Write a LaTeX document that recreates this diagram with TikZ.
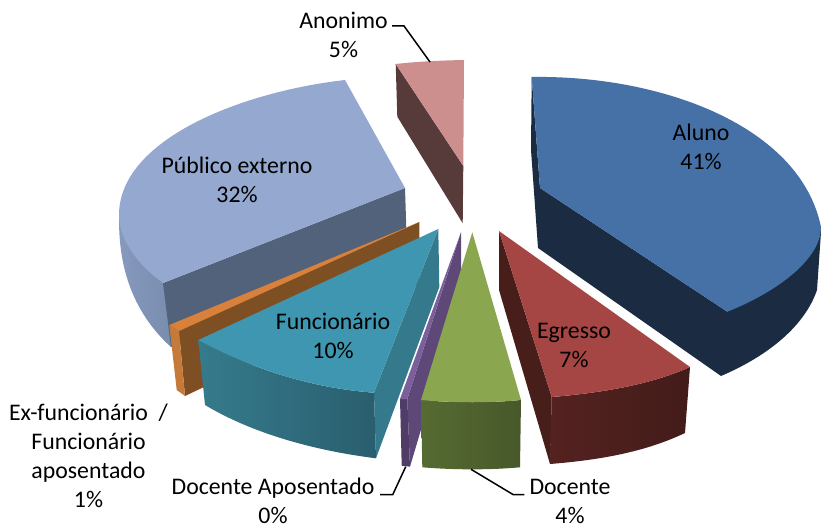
\documentclass[tikz,border=0pt]{standalone}
\usepackage{fontspec}
\setmainfont{Carlito}
\definecolor{aluT}{RGB}{70,113,166}
\definecolor{aluS}{RGB}{27,43,66}
\definecolor{pubT}{RGB}{148,168,208}
\definecolor{pubS}{RGB}{82,98,122}
\definecolor{pubA}{RGB}{134,153,190}
\definecolor{pubB}{RGB}{114,134,165}
\definecolor{egrT}{RGB}{165,70,68}
\definecolor{egrS}{RGB}{72,30,27}
\definecolor{egrA}{RGB}{84,34,32}
\definecolor{egrB}{RGB}{66,28,25}
\definecolor{docT}{RGB}{138,166,79}
\definecolor{docA}{RGB}{85,107,50}
\definecolor{docB}{RGB}{72,88,42}
\definecolor{apoT}{RGB}{122,95,154}
\definecolor{apoS}{RGB}{94,72,120}
\definecolor{apoF}{RGB}{79,61,104}
\definecolor{funT}{RGB}{63,150,176}
\definecolor{funS}{RGB}{53,121,140}
\definecolor{funA}{RGB}{53,123,140}
\definecolor{funB}{RGB}{42,94,110}
\definecolor{exT}{RGB}{217,128,58}
\definecolor{exS}{RGB}{127,79,36}
\definecolor{exF}{RGB}{198,122,58}
\definecolor{anoT}{RGB}{205,143,141}
\definecolor{anoS}{RGB}{87,58,58}
\tikzset{
  lbl/.style={font=\fontsize{23.8}{29}\selectfont,align=center,inner sep=0pt,text=black},
  leader/.style={draw=black,line width=1.5pt},
  face/.style={line join=round}
}
\begin{document}
\begin{tikzpicture}[x=1pt,y=-1pt]
\useasboundingbox (0,0) rectangle (821,526);
% Anonimo
\fill[anoS,face] (395.7,64) -- (397.3,116.7) -- (462.7,223.3) -- (463.3,166) -- cycle;
\fill[anoT,face] (395.7,64) .. controls (418,61.5) and (440,60.5) .. (464,60) -- (463.3,166) -- cycle;
% Publico externo
\shade[left color=pubA,right color=pubB,face] (119,215) .. controls (119,240) and (119,300) .. (171,347) -- (200,300) -- (163,283) -- cycle;
\fill[pubS,face] (163,283) -- (171,347) -- (407,250) -- (405,188) -- cycle;
\fill[pubT,face] (345,80) .. controls (240,92) and (119,140) .. (119,215) .. controls (119,240) and (138,265) .. (163,283) -- (405,188) -- cycle;
% Ex-funcionario
\fill[exS,face] (419.3,222) -- (179,331) -- (185,396) -- (419.3,285) -- cycle;
\fill[exF,face] (169.3,325) -- (179,331) -- (185,396) -- (176.7,390) -- cycle;
\fill[exT,face] (419.3,222) -- (169.3,325) -- (179,331) -- cycle;
% Funcionario
\fill[funS,face] (438.3,229) -- (374,392.7) -- (376,458.3) -- (439.3,287) -- cycle;
\shade[left color=funA,right color=funB,face] (198.3,340) .. controls (250,368) and (310,388) .. (374,392.7) -- (376,458.3) .. controls (310,450) and (250,432) .. (205,405) -- cycle;
\fill[funT,face] (438.3,229) -- (198.3,340) .. controls (250,368) and (310,388) .. (374,392.7) -- cycle;
% Docente Aposentado
\fill[apoS,face] (461,232.3) -- (407.3,399) -- (410,466.7) -- (461,295) -- cycle;
\fill[apoF,face] (400,399) -- (407.3,399) -- (410,466.7) -- (401.7,465.7) -- cycle;
\fill[apoT,face] (461,232.3) -- (400,399) -- (407.3,399) -- cycle;
% Docente
\shade[left color=docA,right color=docB,face] (421,400) .. controls (455,403) and (490,403) .. (521,400) -- (520,467.3) .. controls (490,470) and (455,470) .. (422.3,467.3) -- cycle;
\fill[docT,face] (472.3,232.3) -- (421,400) .. controls (455,403) and (490,403) .. (521,400) -- cycle;
% Egresso
\fill[egrS,face] (499,231) -- (499,290) -- (550,464) -- (551.7,397) -- cycle;
\shade[left color=egrA,right color=egrB,face] (551.7,397) .. controls (600,393) and (650,385) .. (690,367) -- (685,433) .. controls (645,452) and (600,460) .. (550,464) -- cycle;
\fill[egrT,face] (499,231) -- (690,367) .. controls (650,385) and (600,393) .. (551.7,397) -- cycle;
% Aluno
\fill[aluS,face] (531.7,77) -- (531,150) -- (538,248) -- (721,376) .. controls (770,355) and (805,325) .. (817,290) -- (821,232) -- (821,227) -- (727.3,311.7) -- (540,188) -- cycle;
\fill[aluT,face] (531.7,77) .. controls (660,75) and (800,125) .. (821,227) .. controls (821,262) and (770,295) .. (727.3,311.7) -- (540,188) -- cycle;
% Labels
\node[lbl] (lAno) at (343.5,35) {Anonimo\\5\%};
\node[lbl] (lAlu) at (701,147) {Aluno\\41\%};
\node[lbl] (lPub) at (237,180) {Público externo\\32\%};
\node[lbl] (lEgr) at (574,345.5) {Egresso\\7\%};
\node[lbl] (lFun) at (333,335.5) {Funcionário\\10\%};
\node[lbl] (lDoc) at (570,501) {Docente\\4\%};
\node[lbl] (lApo) at (273,501) {Docente Aposentado\\0\%};
\node[lbl] (lEx) at (88.5,456) {Ex-funcionário~~/\\Funcionário\\aposentado\\1\%};
% Leaders
\coordinate (pAno) at (430,62);
\coordinate (kAno) at (404,26);
\coordinate (sAno) at (392,26);
\coordinate (pDoc) at (471,469.3);
\coordinate (kDoc) at (513.3,494.7);
\coordinate (sDoc) at (524.3,494.7);
\coordinate (pApo) at (405.7,466.7);
\coordinate (kApo) at (392.7,494.7);
\coordinate (sApo) at (380,494.7);
\draw[leader] (sAno) -- (kAno) -- (pAno);
\draw[leader] (sDoc) -- (kDoc) -- (pDoc);
\draw[leader] (sApo) -- (kApo) -- (pApo);
\end{tikzpicture}
\end{document}
